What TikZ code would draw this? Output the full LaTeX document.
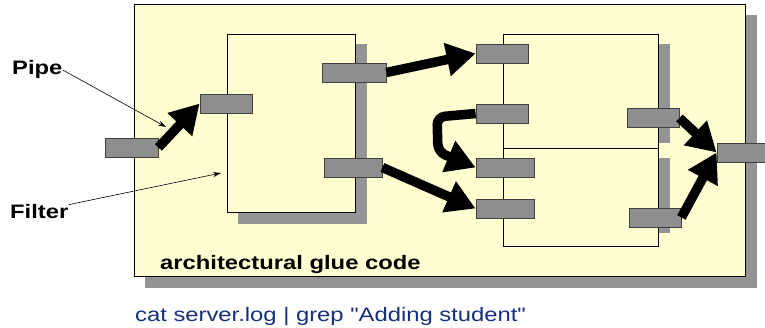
\documentclass[tikz,border=0pt]{standalone}
\usepackage{fontspec}
\setmainfont{Liberation Sans}[FakeStretch=1.22]
\newfontfamily\cmdfont{Liberation Sans}[FakeStretch=1.22,Ligatures=TeXOff]
\usetikzlibrary{arrows.meta}
\definecolor{gluefill}{RGB}{255,255,210}
\definecolor{shadowgray}{RGB}{148,148,148}
\definecolor{portgray}{RGB}{142,142,142}
\definecolor{cmdblue}{RGB}{22,48,122}
\begin{document}
\begin{tikzpicture}[x=1pt,y=-1pt,
  port/.style={draw=black!75,fill=portgray,line width=0.8pt,minimum height=19pt,inner sep=0pt},
  pipe/.style={line width=9.5pt,-{Triangle[length=29pt,width=32pt]}},
  hint/.style={line width=0.6pt,-{Stealth[length=8pt,width=5pt]}},
  bigtext/.style={font=\bfseries\fontsize{19.5}{19.5}\selectfont,inner sep=0pt,anchor=base west}]
\useasboundingbox (0,0) rectangle (765,328);
\fill[shadowgray](145,15) rectangle (757,288);
\draw[line width=0.8pt,fill=gluefill](134,4) rectangle (745,276);
\fill[shadowgray](238,44) rectangle (367,224);
\draw[line width=0.8pt,fill=gluefill](227,34) rectangle (355,212);
\fill[shadowgray](513,44) rectangle (670,143);
\draw[line width=0.8pt,fill=gluefill](503,34) rectangle (658,148);
\fill[shadowgray](513,158) rectangle (670,233);
\draw[line width=0.8pt,fill=gluefill](503,148) rectangle (658,246);
\node[port,minimum width=53pt] (ext) at (131.5,147.5) {};
\node[port,minimum width=52pt] (f1in) at (226,103.5) {};
\node[port,minimum width=64pt] (f1outA) at (354,72.5) {};
\node[port,minimum width=58pt] (f1outB) at (353,167.5) {};
\node[port,minimum width=52pt] (f2inA) at (502,53.5) {};
\node[port,minimum width=52pt] (f2inB) at (502,113.5) {};
\node[port,minimum width=52pt] (f2out) at (653,118) {};
\node[port,minimum width=58pt] (f3inA) at (505,167.5) {};
\node[port,minimum width=58pt] (f3inB) at (505,208.5) {};
\node[port,minimum width=52pt] (f3out) at (655,217.5) {};
\node[port,minimum width=52pt] (out) at (743,152.5) {};
\draw[pipe](ext.east)--(f1in.west);
\draw[pipe](f1outA.east)--(f2inA.west);
\draw[pipe,rounded corners=8pt](f2inB.west)--(437,117)--(438,152)--(f3inA.west);
\draw[pipe](f1outB.east)--(f3inB.west);
\draw[pipe](f2out.east)--(out.west);
\draw[pipe](f3out.east)--(out.west);
\node[bigtext] (pipelbl) at (12,75) {Pipe};
\node[bigtext] (filterlbl) at (10,219) {Filter};
\node[bigtext] (gluelbl) at (160,270) {architectural glue code};
\node[bigtext,font=\cmdfont\fontsize{19.5}{19.5}\selectfont,text=cmdblue] (cmd) at (135,321) {cat server.log | grep "Adding student"};
\coordinate (pipetip) at (166,127);
\coordinate (filtertip) at (221,173);
\draw[hint](pipelbl.east)--(pipetip);
\draw[hint](filterlbl.north east)--(filtertip);
\end{tikzpicture}
\end{document}
